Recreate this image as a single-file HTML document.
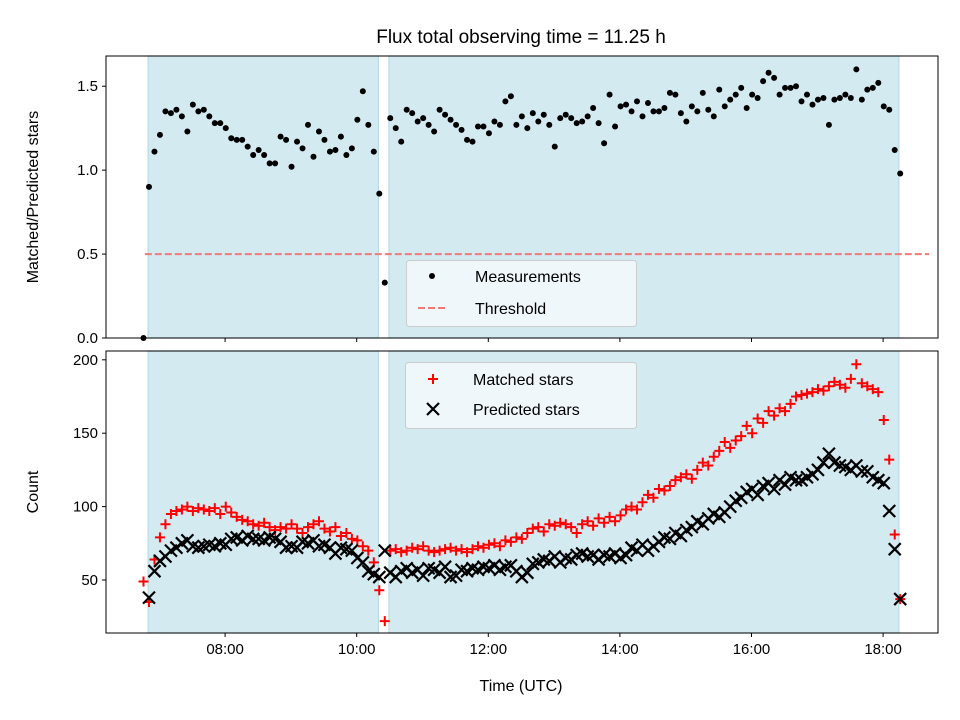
<!DOCTYPE html>
<html><head><meta charset="utf-8"><style>
body{margin:0;background:#fff;}
svg{display:block;font-family:"Liberation Sans","DejaVu Sans",sans-serif;}
</style></head><body>
<svg id="chart" width="960" height="720" viewBox="0 0 960 720" xmlns="http://www.w3.org/2000/svg">
<rect width="960" height="720" fill="#fff"/>
<text x="521" y="43" font-size="19" text-anchor="middle">Flux total observing time = 11.25 h</text>
<g id="top"></g><g id="bot"></g>
<text transform="translate(38,197) rotate(-90)" font-size="16" text-anchor="middle">Matched/Predicted stars</text>
<text transform="translate(38,492) rotate(-90)" font-size="16" text-anchor="middle">Count</text>
<text x="521" y="691" font-size="16" text-anchor="middle">Time (UTC)</text>
</svg>
<script>
const startHour = 6.76;
const stepHours = 5/60;
const shadeIntervals = [[6.83, 10.33], [10.49, 18.24]];
const thresholdValue = 0.5;
const thresholdSpan = [6.78, 18.70];
const xTickHours = [8, 10, 12, 14, 16, 18];
const xTickLabels = ["08:00", "10:00", "12:00", "14:00", "16:00", "18:00"];
const topTicks = [0, 0.5, 1.0, 1.5];
const topTickLabels = ["0.0", "0.5", "1.0", "1.5"];
const botTicks = [50, 100, 150, 200];
const botTickLabels = ["50", "100", "150", "200"];
const ratio = [0.00,
0.90,1.11,1.21,1.35,1.34,1.36,1.32,1.23,1.39,1.35,1.36,1.32,1.28,1.28,1.25,1.19,1.18,1.18,1.14,1.09,1.12,1.09,1.04,1.04,1.20,1.18,1.02,1.17,1.13,1.27,1.08,1.23,1.18,1.11,1.12,1.20,1.09,1.13,1.30,1.47,1.27,1.11,0.86,0.33,
1.31,1.25,1.17,1.36,1.34,1.29,1.31,1.27,1.23,1.36,1.33,1.30,1.27,1.24,1.18,1.17,1.26,1.26,1.22,1.29,1.27,1.41,1.44,1.27,1.32,1.25,1.34,1.29,1.33,1.27,1.14,1.31,1.33,1.31,1.28,1.29,1.32,1.37,1.28,1.16,1.45,1.26,1.38,1.39,1.35,1.41,1.32,1.40,
1.35,1.35,1.37,1.46,1.45,1.34,1.29,1.38,1.35,1.46,1.36,1.32,1.48,1.38,1.42,1.45,1.49,1.37,1.45,1.43,1.53,1.58,1.55,1.45,1.49,1.49,1.50,1.41,1.45,1.39,1.42,1.43,1.27,1.42,1.43,1.45,1.43,1.60,1.42,1.48,1.49,1.52,1.38,1.36,1.12,0.98];
const predicted = [null,38,56,63,66,70,72,75,77,73,72,73,
74,73,75,74,78,79,77,80,78,78,77,79,
78,76,72,73,72,76,75,77,73,74,72,68,
72,71,70,65,62,56,54,52,
70,55,52,56,
58,55,57,53,58,57,55,59,52,53,57,56,
58,57,59,58,60,57,59,60,56,52,55,61,
62,64,63,66,62,65,64,67,68,66,67,64,
67,66,68,65,67,72,70,74,70,73,76,79,
78,82,80,84,86,90,88,92,95,93,96,100,
104,106,110,112,108,114,116,112,118,115,120,118,
118,120,122,125,130,136,130,128,127,125,128,124,
124,120,118,116,97,71,37];
const matched = [49,35,64,79,88,95,97,98,100,97,99,98,
97,99,95,100,96,93,91,90,88,87,89,86,
84,86,85,88,85,82,86,88,90,85,83,86,
80,82,78,77,73,70,62,43,
22,70,71,69,
70,72,71,73,70,69,70,71,72,70,71,69,
71,73,72,74,75,73,77,76,79,78,82,85,
86,83,88,87,89,88,86,82,88,90,87,92,
89,93,90,94,98,100,98,103,108,106,112,111,
114,118,120,122,119,125,130,128,134,138,144,140,
145,148,155,150,160,157,165,162,167,165,170,175,
176,177,178,180,179,182,185,183,181,187,197,
184,182,180,178,159,132,81,37];

const NS = "http://www.w3.org/2000/svg";
const X0 = 106, X1 = 938, T0 = 6.19, PXH = 65.8;
const xs = h => X0 + (h - T0) * PXH;
const topP = {y0: 56, y1: 338, min: 0, max: 1.68};
const botP = {y0: 351, y1: 633, min: 13.9, max: 206};
const ys = (p, v) => p.y1 - (v - p.min) / (p.max - p.min) * (p.y1 - p.y0);
function mk(parent, tag, attrs) {
  const e = document.createElementNS(NS, tag);
  for (const k in attrs) e.setAttribute(k, attrs[k]);
  parent.appendChild(e);
  return e;
}
function frame(g, p, ticks, labels, showXLabels, prefix) {
  for (const s of shadeIntervals) {
    const r = mk(g, "rect", {x: xs(s[0]), y: p.y0, width: xs(s[1]) - xs(s[0]), height: p.y1 - p.y0, fill: "#d4eaf1", stroke: "#b9dce6", "stroke-width": 1.2});
    
    
  }
  ticks.forEach((v, i) => {
    const y = ys(p, v);
    mk(g, "line", {x1: X0 - 4, x2: X0, y1: y, y2: y, stroke: "#000", "stroke-width": 1});
    const t = mk(g, "text", {x: X0 - 8, y: y + 5, "font-size": 15, "text-anchor": "end"});
    t.textContent = labels[i];
    
    
  });
  xTickHours.forEach((h, i) => {
    const x = xs(h);
    mk(g, "line", {x1: x, x2: x, y1: p.y1, y2: p.y1 + 4, stroke: "#000", "stroke-width": 1});
    if (showXLabels) {
      const t = mk(g, "text", {x: x, y: p.y1 + 21, "font-size": 15, "text-anchor": "middle"});
      t.textContent = xTickLabels[i];
      
      
    }
  });
}
function border(g, p) {
  mk(g, "rect", {x: X0, y: p.y0, width: X1 - X0, height: p.y1 - p.y0, fill: "none", stroke: "#000", "stroke-width": 1});
}
const gt = document.getElementById("top");
frame(gt, topP, topTicks, topTickLabels, false, "top");
const th = mk(gt, "line", {x1: xs(thresholdSpan[0]), x2: xs(thresholdSpan[1]), y1: ys(topP, thresholdValue), y2: ys(topP, thresholdValue), stroke: "#f07a7a", "stroke-width": 2, "stroke-dasharray": "7,3"});


ratio.forEach((v, i) => {
  const c = mk(gt, "circle", {cx: xs(startHour + i * stepHours), cy: ys(topP, v), r: 3, fill: "#000"});
  
  
});
border(gt, topP);
const lg1 = mk(gt, "g", {});


mk(lg1, "rect", {x: 406.5, y: 260.5, width: 230, height: 66, rx: 3, fill: "#f5f9fb", "fill-opacity": 0.85, stroke: "#cccccc"});
mk(lg1, "circle", {cx: 432, cy: 276, r: 3, fill: "#000"});
const l1 = mk(lg1, "text", {x: 475, y: 282, "font-size": 16}); l1.textContent = "Measurements";
mk(lg1, "line", {x1: 418, x2: 447, y1: 308, y2: 308, stroke: "#f07a7a", "stroke-width": 2, "stroke-dasharray": "7,3"});
const l2 = mk(lg1, "text", {x: 475, y: 314, "font-size": 16}); l2.textContent = "Threshold";

const gb = document.getElementById("bot");
frame(gb, botP, botTicks, botTickLabels, true, "bottom");
function plus(g, x, y) {
  return mk(g, "path", {d: `M${x-5},${y}H${x+5}M${x},${y-5}V${y+5}`, stroke: "#ff0000", "stroke-width": 2, fill: "none"});
}
function cross(g, x, y) {
  return mk(g, "path", {d: `M${x-6},${y-6}L${x+6},${y+6}M${x-6},${y+6}L${x+6},${y-6}`, stroke: "#000", "stroke-width": 2.2, fill: "none"});
}
matched.forEach((v, i) => {
  const p = plus(gb, xs(startHour + i * stepHours), ys(botP, v));
  
  
});
predicted.forEach((v, i) => {
  if (v === null) return;
  const p = cross(gb, xs(startHour + i * stepHours), ys(botP, v));
  
  
});
border(gb, botP);
const lg2 = mk(gb, "g", {});


mk(lg2, "rect", {x: 405.5, y: 362.5, width: 231, height: 66, rx: 3, fill: "#f5f9fb", "fill-opacity": 0.85, stroke: "#cccccc"});
plus(lg2, 433, 379);
const l3 = mk(lg2, "text", {x: 473, y: 385, "font-size": 16}); l3.textContent = "Matched stars";
cross(lg2, 433, 409);
const l4 = mk(lg2, "text", {x: 473, y: 415, "font-size": 16}); l4.textContent = "Predicted stars";
</script>
</body></html>
